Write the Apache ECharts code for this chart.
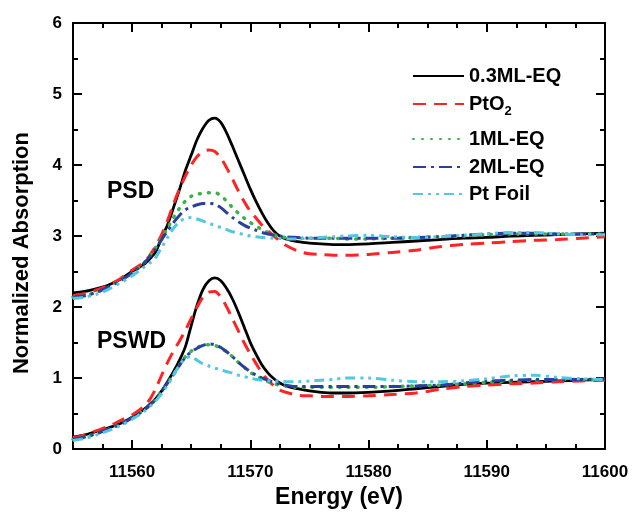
<!DOCTYPE html>
<html><head><meta charset="utf-8">
<script src="https://cdn.jsdelivr.net/npm/echarts@6/dist/echarts.min.js"></script>
<style>html,body{margin:0;padding:0;background:#fff}#c{width:635px;height:514px}</style>
</head><body><div id="c"></div>
<script>
// Energy grid (eV)
const energy = [11555,11556,11557,11558,11559,11560,11561,11561.5,11562,11562.5,11563,11563.5,11564,11564.5,11565,11565.5,11566,11566.5,11567,11567.5,11568,11568.5,11569,11569.5,11570,11570.5,11571,11571.5,11572,11572.5,11573,11574,11575,11576,11577,11578,11580,11582,11584,11586,11588,11590,11592,11594,11596,11598,11600];

// PSD (upper group)
const psd_03ML = [2.20,2.22,2.26,2.31,2.39,2.50,2.60, 2.68,2.78,2.98,3.16,3.40,3.65,3.92,4.14,4.36,4.52, 4.63,4.66,4.60,4.45,4.26,4.06,3.86,3.66,3.48,3.32, 3.18,3.07,3.00,2.96,2.92,2.90,2.89,2.88,2.88,2.89, 2.91,2.93,2.95,2.97,2.98,3.00,3.01,3.02,3.03,3.04];
const psd_PtO2 = [2.16,2.19,2.24,2.31,2.40,2.52,2.63, 2.73,2.86,3.02,3.22,3.45,3.66,3.84,4.00,4.12,4.19, 4.21,4.19,4.10,3.96,3.80,3.63,3.48,3.35,3.25,3.15, 3.07,3.00,2.93,2.87,2.79,2.75,2.74,2.73,2.73,2.74, 2.77,2.80,2.85,2.88,2.90,2.92,2.94,2.95,2.97,2.99];
const psd_1ML = [2.14,2.16,2.21,2.28,2.37,2.48,2.62, 2.72,2.84,2.97,3.11,3.26,3.39,3.49,3.56,3.59,3.60, 3.61,3.61,3.57,3.49,3.40,3.32,3.25,3.19,3.14,3.09, 3.05,3.02,2.99,2.98,2.97,2.97,2.97,2.97,2.96,2.96, 2.97,2.98,2.99,3.00,3.02,3.03,3.03,3.03,3.03,3.03];
const psd_2ML = [2.14,2.16,2.21,2.28,2.37,2.48,2.62, 2.71,2.82,2.95,3.07,3.19,3.29,3.37,3.41,3.44,3.46, 3.46,3.45,3.40,3.33,3.26,3.20,3.15,3.11,3.08,3.05, 3.03,3.01,3.00,2.99,2.98,2.97,2.97,2.97,2.97,2.97, 2.97,2.98,2.99,3.01,3.03,3.04,3.04,3.03,3.03,3.03];
const psd_PtFoil = [2.12,2.14,2.18,2.25,2.34,2.44,2.56, 2.62,2.70,2.84,2.98,3.11,3.20,3.25,3.26,3.24,3.21, 3.18,3.15,3.12,3.09,3.06,3.04,3.02,3.00,2.99,2.98, 2.975,2.97,2.965,2.96,2.96,2.97,2.98,2.99,3.00,3.01, 2.99,2.98,2.99,3.01,3.03,3.05,3.05,3.03,3.02,3.02];

// PSWD (lower group)
const pswd_03ML = [0.17,0.20,0.25,0.30,0.36,0.45,0.56, 0.63,0.71,0.82,0.95,1.09,1.25,1.44,1.74,2.03,2.25, 2.37,2.41,2.37,2.26,2.11,1.92,1.71,1.50,1.33,1.18, 1.07,0.99,0.93,0.89,0.85,0.82,0.80,0.79,0.79,0.80, 0.82,0.85,0.88,0.91,0.93,0.94,0.95,0.96,0.97,0.98];
const pswd_PtO2 = [0.16,0.20,0.26,0.32,0.40,0.48,0.60, 0.70,0.85,1.04,1.22,1.38,1.52,1.67,1.84,2.00,2.14, 2.21,2.22,2.14,2.00,1.83,1.66,1.49,1.34,1.20,1.07, 0.97,0.89,0.83,0.80,0.76,0.75,0.74,0.74,0.74,0.75, 0.77,0.79,0.84,0.88,0.90,0.92,0.93,0.95,0.96,0.97];
const pswd_1ML = [0.14,0.17,0.22,0.28,0.35,0.44,0.55, 0.62,0.70,0.81,0.93,1.05,1.18,1.30,1.38,1.43,1.46, 1.47,1.46,1.42,1.37,1.30,1.22,1.15,1.08,1.03,0.99, 0.95,0.92,0.90,0.89,0.87,0.87,0.87,0.87,0.87,0.87, 0.88,0.89,0.90,0.92,0.94,0.96,0.97,0.98,0.98,0.98];
const pswd_2ML = [0.14,0.17,0.22,0.28,0.35,0.44,0.55, 0.62,0.70,0.81,0.93,1.05,1.18,1.29,1.37,1.42,1.46, 1.48,1.47,1.43,1.37,1.30,1.22,1.15,1.09,1.04,1.00, 0.97,0.94,0.92,0.90,0.88,0.88,0.88,0.88,0.88,0.88, 0.88,0.89,0.90,0.93,0.96,0.97,0.98,0.98,0.98,0.99];
const pswd_PtFoil = [0.12,0.15,0.20,0.26,0.33,0.42,0.53, 0.60,0.68,0.78,0.90,1.04,1.18,1.28,1.30,1.25,1.20, 1.17,1.14,1.12,1.09,1.07,1.04,1.02,1.00,0.98,0.97, 0.965,0.96,0.955,0.95,0.95,0.96,0.97,0.98,1.00,1.00, 0.97,0.95,0.95,0.96,0.99,1.03,1.04,1.01,0.99,0.98];

const seriesNames = ['0.3ML-EQ','PtO2','1ML-EQ','2ML-EQ','Pt Foil'];
const xMajorTicks = [11560,11570,11580,11590,11600];
const groupLabels = ['PSD','PSWD'];

const FONT = '"Liberation Sans", Arial, Helvetica, sans-serif';
const styles = {
  '0.3ML-EQ': {color:'#000000', type:'solid', width:2.8},
  'PtO2': {color:'#ff2424', type:[13,8], width:3},
  '1ML-EQ': {color:'#3cb34a', type:[1,8], width:3.5, cap:'round'},
  '2ML-EQ': {color:'#2b3f9c', type:[13,5,3,5], width:3},
  'Pt Foil': {color:'#52c6e2', type:[10,5,3,5,3,5], width:3}
};
const groups = [
  [psd_03ML, psd_PtO2, psd_1ML, psd_2ML, psd_PtFoil],
  [pswd_03ML, pswd_PtO2, pswd_1ML, pswd_2ML, pswd_PtFoil]
];
const series = [];
groups.forEach(g => {
  g.forEach((vals, i) => {
    const nm = seriesNames[i];
    const st = styles[nm];
    series.push({
      name: nm, type:'line', xAxisIndex:0, yAxisIndex:0,
      data: energy.map((e, k) => [e, vals[k]]),
      symbol:'none', smooth:0.3, animation:false,
      color: st.color,
      lineStyle: {color: st.color, type: st.type, width: st.width, cap: st.cap || 'butt'}
    });
  });
});

const legendTops = [66, 94, 129, 157, 184];
const legends = seriesNames.map((nm, i) => ({
  data:[nm], left:412, top: legendTops[i], orient:'vertical', padding:0,
  itemWidth:51, itemHeight:14, selectedMode:false,
  itemStyle:{opacity:0},
  formatter: n => n === 'PtO2' ? 'PtO{sub|2}' : n,
  textStyle:{fontSize:20, fontWeight:'bold', color:'#000', fontFamily:FONT,
    rich:{sub:{fontSize:13, fontWeight:'bold', fontFamily:FONT, color:'#000', padding:[14,0,0,0]}}}
}));

const axisLineStyle = {color:'#000', width:2};
const xBase = {type:'value', min:11555, max:11600, gridIndex:0};
const chart = echarts.init(document.getElementById('c'), null, {renderer:'canvas'});
chart.setOption({
  animation:false,
  backgroundColor:'#fff',
  grid:{left:73, right:30, top:23, bottom:59, containLabel:false},
  legend: legends,
  xAxis:[
    Object.assign({}, xBase, {position:'bottom', interval:2.5,
      name:'Energy (eV)', nameLocation:'middle', nameGap:35,
      nameTextStyle:{fontSize:23, fontWeight:'bold', color:'#000', fontFamily:FONT},
      axisLine:{show:true, lineStyle:axisLineStyle},
      axisTick:{inside:true, length:5, lineStyle:{color:'#000', width:2}},
      axisLabel:{customValues:xMajorTicks, formatter: v => String(v), fontSize:17, fontWeight:'bold', color:'#000', fontFamily:FONT, margin:15},
      splitLine:{show:false}}),
    Object.assign({}, xBase, {position:'bottom',
      axisLine:{show:false},
      axisTick:{customValues:xMajorTicks, inside:true, length:9, lineStyle:{color:'#000', width:2}},
      axisLabel:{show:false}, splitLine:{show:false}}),
    Object.assign({}, xBase, {position:'top', interval:2.5,
      axisLine:{show:true, lineStyle:axisLineStyle},
      axisTick:{inside:true, length:5, lineStyle:{color:'#000', width:2}},
      axisLabel:{show:false}, splitLine:{show:false}}),
    Object.assign({}, xBase, {position:'top',
      axisLine:{show:false},
      axisTick:{customValues:xMajorTicks, inside:true, length:9, lineStyle:{color:'#000', width:2}},
      axisLabel:{show:false}, splitLine:{show:false}})
  ],
  yAxis:[
    {type:'value', min:0, max:6, interval:1, position:'left',
      name:'Normalized Absorption', nameLocation:'middle', nameGap:40,
      nameTextStyle:{fontSize:22, fontWeight:'bold', color:'#000', fontFamily:FONT, padding:[0,34,0,0]},
      axisLine:{show:true, lineStyle:axisLineStyle},
      axisTick:{inside:true, length:9, lineStyle:{color:'#000', width:2}},
      minorTick:{show:true, splitNumber:2, length:5, lineStyle:{color:'#000', width:2}},
      axisLabel:{fontSize:17, fontWeight:'bold', color:'#000', fontFamily:FONT, margin:11},
      splitLine:{show:false}, minorSplitLine:{show:false}},
    {type:'value', min:0, max:6, interval:1, position:'right',
      axisLine:{show:true, lineStyle:axisLineStyle},
      axisTick:{inside:true, length:9, lineStyle:{color:'#000', width:2}},
      minorTick:{show:true, splitNumber:2, length:5, lineStyle:{color:'#000', width:2}},
      axisLabel:{show:false}, splitLine:{show:false}, minorSplitLine:{show:false}}
  ],
  graphic:[
    {type:'text', left:107, top:180, style:{text:groupLabels[0], font:'bold 23px ' + FONT, fill:'#000'}},
    {type:'text', left:97, top:330, style:{text:groupLabels[1], font:'bold 23px ' + FONT, fill:'#000'}}
  ],
  series: series
});
</script>
</body></html>
